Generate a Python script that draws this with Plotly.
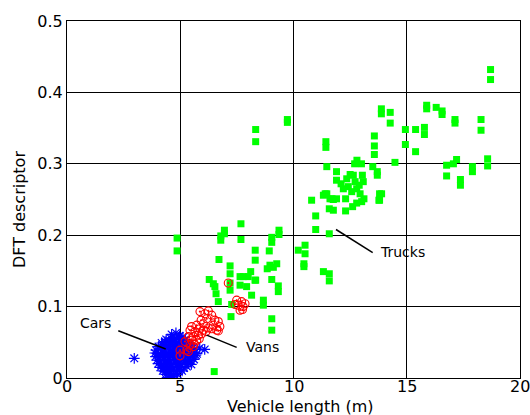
import plotly.graph_objects as go

# ---------------- data ----------------
truck_len = [18.70, 18.70, 9.73, 9.73, 8.33, 8.33, 13.88, 13.88, 14.27, 14.27,
             15.88, 15.88, 16.30, 16.56, 16.56, 17.13, 17.13, 18.28, 18.28,
             14.94, 15.39, 15.78, 15.78, 14.94, 15.39, 13.57, 13.57, 13.57,
             11.43, 11.43, 14.48, 12.80, 13.00, 12.70, 11.47, 11.90, 11.90,
             13.50, 13.70, 13.70, 16.76, 16.76, 17.06, 17.20, 17.90, 17.90,
             17.37, 17.37, 18.57, 18.57, 10.80, 11.40, 11.70, 13.80, 13.80,
             12.35, 12.64, 13.04, 13.08, 12.72, 12.42, 12.20, 12.79, 12.57,
             12.94, 13.11, 13.89, 13.77, 13.01, 12.79, 12.61, 12.30, 11.90,
             11.61, 11.47, 11.32, 11.76, 11.58, 11.76, 12.30, 12.10, 12.50,
             12.90, 10.98, 10.98, 11.58, 10.21, 10.51, 10.51, 10.46, 10.46,
             11.32, 11.58, 11.58, 9.36, 9.36, 9.04, 9.04, 9.33, 9.33,
             7.68, 6.95, 6.95, 6.79, 6.79, 7.68, 8.31, 8.93, 8.31, 6.71,
             9.26, 8.96, 8.84, 9.11, 7.20, 7.20, 8.11, 8.00, 7.78, 7.64, 8.33,
             6.28, 6.46, 6.53, 6.58, 6.68, 7.64, 7.93, 8.15, 8.30, 7.20, 7.20,
             9.04, 8.67, 8.67, 7.27, 7.24, 9.04, 9.04, 6.50, 4.86, 4.86]
truck_dft = [0.432, 0.418, 0.362, 0.358, 0.348, 0.331, 0.377, 0.370, 0.372, 0.357,
             0.382, 0.377, 0.379, 0.374, 0.369, 0.362, 0.357, 0.362, 0.347,
             0.348, 0.348, 0.351, 0.341, 0.327, 0.317, 0.339, 0.325, 0.313,
             0.331, 0.323, 0.302, 0.305, 0.300, 0.300, 0.296, 0.289, 0.277,
             0.296, 0.289, 0.284, 0.298, 0.283, 0.300, 0.306, 0.296, 0.289,
             0.278, 0.270, 0.307, 0.297, 0.249, 0.258, 0.251, 0.258, 0.249,
             0.279, 0.284, 0.284, 0.275, 0.275, 0.268, 0.265, 0.265, 0.261,
             0.258, 0.251, 0.258, 0.249, 0.247, 0.245, 0.240, 0.251, 0.251,
             0.251, 0.258, 0.256, 0.250, 0.237, 0.235, 0.234, 0.272, 0.285,
             0.270, 0.227, 0.208, 0.202, 0.179, 0.186, 0.174, 0.160, 0.156,
             0.149, 0.146, 0.136, 0.207, 0.201, 0.197, 0.190, 0.129, 0.121,
             0.216, 0.207, 0.202, 0.199, 0.193, 0.194, 0.179, 0.178, 0.165, 0.166,
             0.160, 0.158, 0.153, 0.155, 0.157, 0.146, 0.149, 0.142, 0.142, 0.142, 0.137,
             0.138, 0.132, 0.128, 0.118, 0.107, 0.130, 0.128, 0.116, 0.137, 0.123, 0.133,
             0.138, 0.109, 0.102, 0.103, 0.086, 0.083, 0.067, 0.009, 0.196, 0.178]

van_len = [7.12, 7.49, 7.71, 7.56, 7.78, 7.64, 7.86, 7.42, 7.75,
           5.87, 6.09, 6.24, 6.39, 6.53, 6.46, 6.68, 6.39, 6.75, 6.17, 6.02,
           6.61, 5.92, 6.24, 6.14, 6.68,
           5.50, 5.73, 5.87, 5.65, 5.80, 5.95, 5.58, 6.02, 5.43, 5.73,
           5.36, 5.50, 5.21, 5.43, 5.58, 5.29, 4.99, 4.99, 5.36, 5.84, 5.62]
van_dft = [0.133, 0.109, 0.107, 0.102, 0.100, 0.095, 0.104, 0.103, 0.096,
           0.093, 0.090, 0.094, 0.088, 0.081, 0.074, 0.079, 0.069, 0.072, 0.083, 0.076,
           0.067, 0.081, 0.070, 0.065, 0.066,
           0.072, 0.074, 0.069, 0.065, 0.060, 0.062, 0.058, 0.067, 0.067, 0.053,
           0.058, 0.053, 0.051, 0.046, 0.044, 0.039, 0.039, 0.031, 0.037, 0.055, 0.048]

car_len = [4.62, 4.81, 4.97, 5.12,
           4.38, 4.57, 4.74, 4.92, 5.06, 5.22,
           4.18, 4.33, 4.52, 4.66, 4.83, 4.96, 5.13, 5.27, 5.41,
           4.04, 4.21, 4.37, 4.49, 4.68, 4.79, 4.94, 5.11, 5.24, 5.42, 5.58,
           3.93, 4.12, 4.24, 4.41, 4.57, 4.72, 4.86, 5.02, 5.16, 5.31, 5.47, 5.62, 5.86, 6.08,
           3.88, 4.03, 4.22, 4.36, 4.48, 4.64, 4.81, 4.97, 5.09, 5.26, 5.38, 5.57, 5.74,
           3.91, 4.07, 4.19, 4.34, 4.52, 4.67, 4.78, 4.93, 5.12, 5.24, 5.43, 5.56, 5.69,
           3.97, 4.11, 4.27, 4.42, 4.56, 4.69, 4.87, 5.01, 5.14, 5.32, 5.46, 5.61,
           4.02, 4.16, 4.31, 4.47, 4.61, 4.76, 4.89, 5.04, 5.21, 5.36, 5.49,
           4.12, 4.26, 4.39, 4.54, 4.71, 4.84, 4.99, 5.17, 5.29,
           4.23, 4.37, 4.51, 4.63, 4.82, 4.94, 5.08,
           4.36, 4.54, 4.72, 4.88,
           4.48, 4.69,
           2.97]
car_dft = [0.061, 0.063, 0.059, 0.057,
           0.054, 0.056, 0.055, 0.057, 0.054, 0.053,
           0.049, 0.051, 0.050, 0.052, 0.049, 0.051, 0.050, 0.048, 0.047,
           0.044, 0.046, 0.045, 0.044, 0.046, 0.045, 0.043, 0.046, 0.044, 0.045, 0.043,
           0.039, 0.041, 0.040, 0.042, 0.039, 0.040, 0.041, 0.039, 0.040, 0.038, 0.041, 0.040, 0.042, 0.040,
           0.035, 0.034, 0.036, 0.035, 0.034, 0.036, 0.035, 0.034, 0.036, 0.035, 0.033, 0.036, 0.034,
           0.030, 0.029, 0.031, 0.030, 0.029, 0.031, 0.030, 0.028, 0.031, 0.030, 0.029, 0.031, 0.032,
           0.025, 0.024, 0.026, 0.025, 0.024, 0.026, 0.025, 0.024, 0.026, 0.025, 0.024, 0.026,
           0.020, 0.019, 0.021, 0.020, 0.019, 0.021, 0.020, 0.019, 0.021, 0.020, 0.019,
           0.015, 0.014, 0.016, 0.015, 0.014, 0.016, 0.015, 0.014, 0.016,
           0.010, 0.009, 0.011, 0.010, 0.009, 0.011, 0.010,
           0.005, 0.006, 0.004, 0.005,
           0.001, 0.002,
           0.0275]

x_ticks = [0, 5, 10, 15, 20]
x_tick_text = ["0", "5", "10", "15", "20"]
y_ticks = [0, 0.1, 0.2, 0.3, 0.4, 0.5]
y_tick_text = ["0", "0.1", "0.2", "0.3", "0.4", "0.5"]

FONT = "DejaVu Sans"

fig = go.Figure()
fig.add_trace(go.Scatter(x=truck_len, y=truck_dft, mode="markers", name="Trucks",
                         marker=dict(symbol="square", size=7, color="#00ff00",
                                     line=dict(width=0))))
fig.add_trace(go.Scatter(x=car_len, y=car_dft, mode="markers", name="Cars",
                         marker=dict(symbol="asterisk-open", size=9, color="#0000ff",
                                     line=dict(width=1.2, color="#0000ff"))))
fig.add_trace(go.Scatter(x=van_len, y=van_dft, mode="markers", name="Vans",
                         marker=dict(symbol="circle-open-dot", size=8, color="#ff0000",
                                     line=dict(width=1.1, color="#ff0000"))))

# label leader lines
for (x0, y0, x1, y1) in [(2.265, 0.0662, 4.357, 0.0406),
                         (6.168, 0.0601, 7.49, 0.0429),
                         (11.876, 0.208, 13.497, 0.1757)]:
    fig.add_shape(type="line", x0=x0, y0=y0, x1=x1, y1=y1, xref="x", yref="y",
                  line=dict(color="black", width=1.5))

for (tx, ty, t) in [(1.236, 0.0769, "Cars"), (8.61, 0.0434, "Vans"), (14.83, 0.176, "Trucks")]:
    fig.add_annotation(x=tx, y=ty, xref="x", yref="y", text=t, showarrow=False,
                       font=dict(family=FONT, size=14, color="black"),
                       xanchor="center", yanchor="middle")

# x tick labels placed at the reference's height
for v, t in zip(x_ticks, x_tick_text):
    fig.add_annotation(x=v, y=-0.0225, xref="x", yref="paper", text=t, showarrow=False,
                       font=dict(family=FONT, size=16, color="black"),
                       xanchor="center", yanchor="middle")

fig.add_annotation(x=0.514, y=-0.08, xref="paper", yref="paper", text="Vehicle length (m)",
                   showarrow=False, font=dict(family=FONT, size=16, color="black"),
                   xanchor="center", yanchor="middle")
fig.add_annotation(x=-0.105, y=0.4716, xref="paper", yref="paper", text="DFT descriptor",
                   showarrow=False, textangle=-90, font=dict(family=FONT, size=16, color="black"),
                   xanchor="center", yanchor="middle")

axis_common = dict(showgrid=True, gridcolor="black", gridwidth=1, showline=True,
                   linecolor="black", linewidth=1, mirror=True, zeroline=False,
                   ticks="", automargin=False, ticklabeloverflow="allow",
                   tickfont=dict(family=FONT, size=16, color="black"))

fig.update_layout(
    width=530, height=415,
    margin=dict(l=67, r=10, t=21, b=37, autoexpand=False),
    plot_bgcolor="white", paper_bgcolor="white",
    showlegend=False,
    font=dict(family=FONT, size=16, color="black"),
    xaxis=dict(range=[0, 20], tickvals=x_ticks, showticklabels=False, **axis_common),
    yaxis=dict(range=[0, 0.5], tickvals=y_ticks, ticktext=y_tick_text, **axis_common),
)

fig.write_html("out.html", config={"displayModeBar": False},
               post_script="document.body.style.margin='0';document.body.style.overflow='hidden';")
